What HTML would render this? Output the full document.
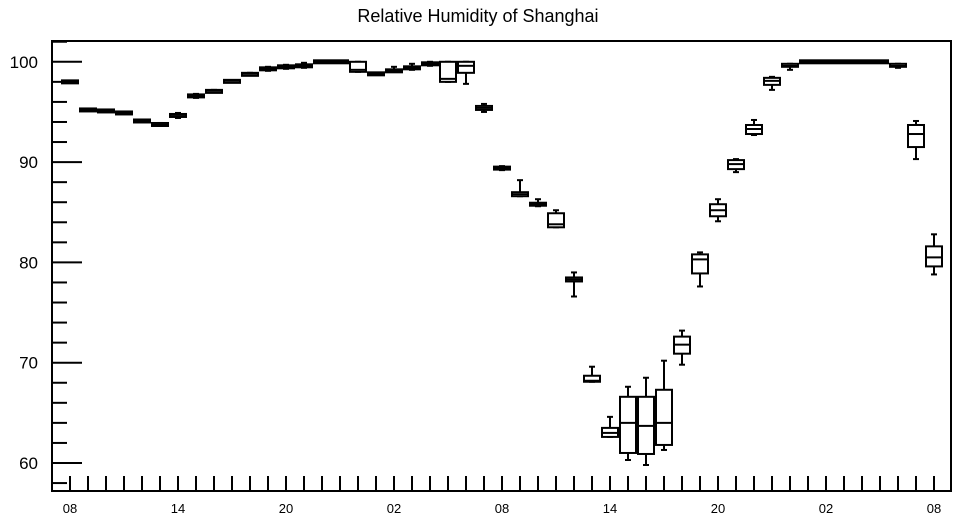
<!DOCTYPE html>
<html><head><meta charset="utf-8"><style>
body{margin:0;background:#fff}
svg{display:block;font-family:"Liberation Sans",Arial,sans-serif}
</style></head><body>
<svg id="chart" width="957" height="520" viewBox="0 0 957 520" xmlns="http://www.w3.org/2000/svg">
<text x="478" y="22" text-anchor="middle" font-size="18">Relative Humidity of Shanghai</text>
<rect x="52" y="41" width="899" height="450" fill="none" stroke="#000" stroke-width="2"/>
<g id="axes"></g>
<g id="boxes"></g>
</svg>
<script>
const yTicks=[60,70,80,90,100];
const xTickLabels=["08","14","20","02","08","14","20","02","08"];
const mins=[98,95.1,95,94.8,94,93.6,94.4,96.4,97,98,98.7,99.1,99.3,99.4,100,100,99,98.7,99,99.2,99.6,98,97.8,95,89.2,86.6,85.6,83.5,76.6,68.1,62.6,60.3,59.8,61.3,69.8,77.6,84.1,89,92.7,97.2,99.2,100,100,100,100,100,99.4,90.3,78.8];
const q1s=[98,95.1,95,94.8,94,93.7,94.5,96.5,97,98,98.7,99.2,99.4,99.5,100,100,99,98.7,99,99.3,99.7,98,98.9,95.2,89.3,86.6,85.7,83.5,78.1,68.1,62.6,61,60.9,61.8,70.9,78.9,84.6,89.3,92.8,97.7,99.5,100,100,100,100,100,99.5,91.5,79.6];
const meds=[98,95.2,95.1,94.9,94.1,93.7,94.7,96.6,97.1,98.1,98.8,99.3,99.5,99.6,100,100,99.2,98.8,99.1,99.4,99.8,98.3,99.6,95.4,89.4,86.8,85.8,83.8,78.3,68.2,63,64,63.7,64,71.8,80.3,85.2,89.8,93.3,98.1,99.6,100,100,100,100,100,99.6,92.8,80.5];
const q3s=[98,95.3,95.2,95,94.2,93.8,94.8,96.7,97.1,98.1,98.8,99.4,99.6,99.7,100,100,100,98.9,99.2,99.5,99.9,100,100,95.6,89.5,87,85.9,84.9,78.5,68.7,63.5,66.6,66.6,67.3,72.6,80.8,85.8,90.2,93.7,98.4,99.8,100,100,100,100,100,99.8,93.7,81.6];
const maxs=[98,95.3,95.2,95,94.2,93.9,94.9,96.8,97.2,98.1,98.9,99.5,99.7,99.9,100,100,100,98.9,99.5,99.8,100,100,100,95.8,89.6,88.2,86.3,85.2,79,69.6,64.6,67.6,68.5,70.2,73.2,81,86.3,90.3,94.2,98.5,99.8,100,100,100,100,100,99.8,94.1,82.8];
const NS="http://www.w3.org/2000/svg";
const X=i=>70+i*18;
const Y=v=>463-(v-60)*10.03;
function mk(tag,attrs,parent){const e=document.createElementNS(NS,tag);for(const k in attrs)e.setAttribute(k,attrs[k]);parent.appendChild(e);return e;}
const ax=document.getElementById('axes');
// y ticks
for(let v=58;v<=102;v+=2){
  const major=v%10===0;
  const t=mk('line',{x1:52,x2:major?82:67,y1:Y(v),y2:Y(v),stroke:'#000','stroke-width':2},ax);
  
  
}
yTicks.forEach(v=>{
  const t=mk('text',{x:38,y:Y(v)+6,'text-anchor':'end','font-size':17},ax);
  t.textContent=v;
  
  
});
for(let i=0;i<49;i++){
  const t=mk('line',{x1:X(i),x2:X(i),y1:476,y2:491,stroke:'#000','stroke-width':2},ax);
  
  
}
xTickLabels.forEach((s,k)=>{
  const t=mk('text',{x:X(k*6),y:513,'text-anchor':'middle','font-size':13},ax);
  t.textContent=s;
  
  
});
const bx=document.getElementById('boxes');
for(let i=0;i<meds.length;i++){
  const g=mk('g',{},bx);
  
  
  const x=X(i);
  let top=Y(q3s[i]),bot=Y(q1s[i]);
  if(bot-top<3){const c=(top+bot)/2;top=c-1.5;bot=c+1.5;}
  mk('line',{x1:x,x2:x,y1:Y(maxs[i]),y2:top,stroke:'#000','stroke-width':2},g);
  mk('line',{x1:x,x2:x,y1:bot,y2:Y(mins[i]),stroke:'#000','stroke-width':2},g);
  mk('line',{x1:x-3,x2:x+3,y1:Y(maxs[i]),y2:Y(maxs[i]),stroke:'#000','stroke-width':2},g);
  mk('line',{x1:x-3,x2:x+3,y1:Y(mins[i]),y2:Y(mins[i]),stroke:'#000','stroke-width':2},g);
  mk('rect',{x:x-8,y:top,width:16,height:bot-top,fill:'#fff',stroke:'#000','stroke-width':2},g);
  mk('line',{x1:x-8,x2:x+8,y1:Y(meds[i]),y2:Y(meds[i]),stroke:'#000','stroke-width':2},g);
}
</script>
</body></html>
